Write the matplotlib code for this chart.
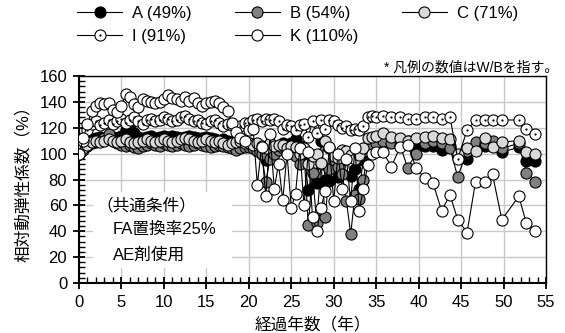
import matplotlib
matplotlib.use("Agg")
import matplotlib.pyplot as plt
from matplotlib.lines import Line2D
from matplotlib.patches import Rectangle
from matplotlib.ticker import MultipleLocator

plt.rcParams['font.family'] = ['Liberation Sans', 'Noto Sans CJK JP']
plt.rcParams['font.size'] = 12

# Measurement times (years)
years = [0, 0.5, 1, 1.5, 2, 2.5, 3, 3.5, 4, 4.5, 5, 5.5, 6, 6.5, 7, 7.5, 8, 8.5, 9, 9.5,
         10, 10.5, 11, 11.5, 12, 12.5, 13, 13.5, 14, 14.5, 15, 15.5, 16, 16.5, 17, 17.5,
         18, 18.5, 19, 19.5,
         20, 20.5, 21, 21.5, 22, 22.5, 23, 23.5, 24, 24.5, 25, 25.5, 26, 26.5, 27, 27.5,
         28, 28.5, 29, 29.5, 30, 30.5, 31, 31.5, 32, 32.5, 33, 33.5, 34, 34.5, 35,
         35.8, 36.8, 37.8, 38.7, 39.7, 40.7, 41.7, 42.7, 43.7, 44.6, 45.7, 46.7, 47.8,
         48.7, 49.8, 51.8, 52.7, 53.7]

# Relative dynamic modulus (%)
series_A = [100, 105, 109, 111, 112, 113, 112, 113, 113, 112, 114, 118, 122, 116, 113, 112,
            113, 114, 112, 113, 114, 113, 114, 113, 112, 113, 114, 113, 112, 112, 113, 112,
            111, 110, 111, 110, 109, 108, 109, 108,
            108, 106, 104, 100, 95, 98, 104, 106, 108, 105, 108, 111, 106, 100, 72, 85,
            77, 110, 80, 79, 91, 82, 95, 100, 83, 88, 73, 95, 106, 108, 110,
            112, 110, 109, 110, 104, 106, 106, 103, 106, 98, 96, 104, 106, 107, 101, 105,
            94, 94]
series_B = [100, 103, 106, 108, 109, 110, 112, 115, 110, 108, 107, 106, 107, 105, 104, 106,
            107, 108, 107, 106, 108, 107, 106, 107, 108, 107, 106, 107, 108, 107, 106, 105,
            106, 107, 106, 105, 104, 103, 104, 105,
            105, 104, 102, 100, 78, 96, 100, 103, 104, 102, 103, 98, 92, 101, 45, 85,
            46, 92, 51, 88, 95, 90, 84, 63, 38, 68, 65, 80, 102, 105, 108,
            110, 108, 107, 89, 100, 108, 110, 108, 104, 82, 102, 109, 108, 110, 104, 108,
            85, 78]
series_C = [100, 104, 107, 109, 110, 109, 110, 111, 110, 109, 110, 111, 109, 108, 109, 110,
            111, 110, 109, 110, 111, 110, 109, 110, 111, 112, 111, 110, 109, 110, 111, 110,
            109, 110, 108, 107, 108, 109, 110, 108,
            108, 107, 108, 106, 104, 108, 106, 107, 107, 104, 106, 105, 100, 104, 92, 98,
            100, 93, 110, 104, 98, 97, 103, 102, 99, 96, 99, 104, 112, 113, 114,
            116, 113, 112, 110, 112, 113, 114, 112, 111, 100, 104, 102, 112, 105, 109, 110,
            101, 100]
series_I = [100, 110, 118, 123, 125, 122, 124, 126, 123, 125, 127, 124, 126, 128, 125, 123,
            126, 127, 125, 126, 128, 127, 125, 126, 128, 129, 127, 125, 126, 124, 123, 125,
            126, 124, 121, 123, 122, 120, 121, 124,
            124, 126, 127, 125, 127, 126, 127, 125, 119, 122, 121, 118, 122, 123, 113, 125,
            116, 126, 119, 126, 125, 122, 120, 121, 118, 119, 118, 121, 128, 129, 128,
            129, 128, 128, 127, 127, 128, 128, 127, 128, 96, 118, 126, 126, 126, 126, 126,
            119, 115]
series_K = [100, 112, 123, 133, 137, 139, 138, 139, 134, 132, 137, 146, 144, 138, 136, 142,
            141, 140, 139, 140, 142, 145, 143, 142, 141, 144, 141, 143, 139, 137, 139, 140,
            141, 139, 136, 133, 124, 117, 112, 110,
            118, 119, 76, 105, 67, 115, 73, 92, 64, 100, 58, 69, 104, 60, 101, 51,
            40, 58, 71, 105, 63, 100, 73, 96, 63, 104, 56, 73, 91, 100, 101,
            101, 90, 105, 107, 89, 81, 77, 56, 68, 49, 39, 78, 78, 84, 49, 67,
            46, 40]

labels = ['A (49%)', 'B (54%)', 'C (71%)', 'I (91%)', 'K (110%)']
fills = ['#000000', '#808080', '#d9d9d9', '#ffffff', '#ffffff']

fig = plt.figure(figsize=(5.65, 3.33), dpi=100)
ax = fig.add_axes([79 / 565, 1 - 283 / 333, (546 - 79) / 565, (283 - 76) / 333])

handles = {}
for vals, lab, fc in zip([series_A, series_B, series_C, series_I, series_K], labels, fills):
    ln, = ax.plot(years, vals, color='black', lw=0.8, marker='o', ms=8,
                  mfc=fc, mec='black', mew=0.8, zorder=3)
    handles[lab] = ln
    if lab.startswith('I'):
        dot, = ax.plot(years, vals, ls='none', marker='o', ms=1.6, mfc='black',
                       mec='black', mew=0, zorder=3)
        handles[lab] = (ln, dot)

ax.set_xlim(0, 55)
ax.set_ylim(0, 160)
ax.xaxis.set_major_locator(MultipleLocator(5))
ax.xaxis.set_minor_locator(MultipleLocator(1))
ax.yaxis.set_major_locator(MultipleLocator(20))
ax.yaxis.set_minor_locator(MultipleLocator(4))
ax.grid(True, which='major', color='#c8c8c8', lw=1.0)
ax.set_axisbelow(True)
ax.tick_params(which='major', direction='inout', length=9, width=1.3, labelsize=12, pad=4)
ax.tick_params(which='minor', direction='in', length=4, width=1.0)
for side in ['left', 'bottom']:
    ax.spines[side].set_linewidth(1.5)
for side in ['top', 'right']:
    ax.spines[side].set_linewidth(1.0)

ax.set_xlabel('経過年数（年）', fontsize=12, labelpad=5)
ax.set_ylabel('相対動弾性係数（%）', fontsize=12, labelpad=6)

# Common conditions box
ax.add_patch(Rectangle((1.65, 11.5), 16.4, 58.5, facecolor='white', edgecolor='none', zorder=1))
ax.text(2.1, 60.3, '（共通条件）', fontsize=12, va='center', ha='left', zorder=2)
ax.text(4.0, 41.0, 'FA置換率25%', fontsize=12, va='center', ha='left', zorder=2)
ax.text(4.0, 21.6, 'AE剤使用', fontsize=12, va='center', ha='left', zorder=2)

fig.text(558 / 565, 1 - 68 / 333, '* 凡例の数値はW/Bを指す。', fontsize=10,
         ha='right', va='center')

order = ['A (49%)', 'I (91%)', 'B (54%)', 'K (110%)', 'C (71%)']
fig.legend([handles[k] for k in order], order, loc='upper left', ncol=3,
           bbox_to_anchor=(77 / 565, 1 - 6 / 333), frameon=False, fontsize=12,
           handlelength=2.7, handletextpad=0.6, columnspacing=2.6, labelspacing=0.45,
           borderpad=0, borderaxespad=0)

fig.savefig('out.png', dpi=100)
